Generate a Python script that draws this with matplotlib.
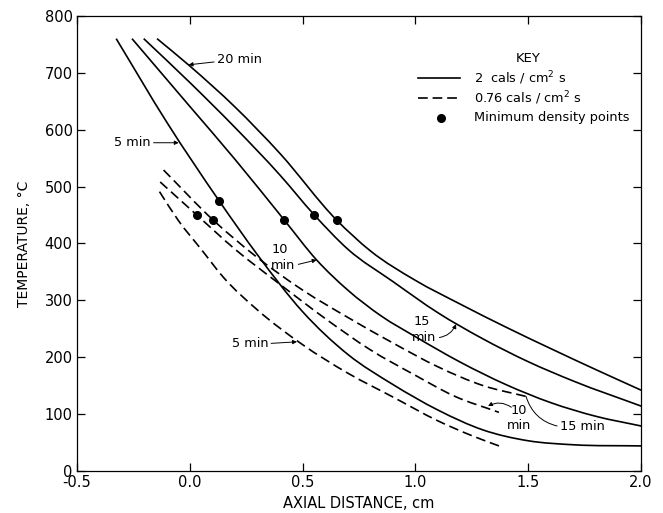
import matplotlib
matplotlib.use("Agg")
import matplotlib.pyplot as plt
import numpy as np
from matplotlib.path import Path
from matplotlib.patches import PathPatch

plt.rcParams['font.family'] = ['DejaVu Sans']
plt.rcParams['lines.scale_dashes'] = False

# ---- data ----
# 2 cals/cm2 s (solid)
s5_x = [-0.326, -0.1, 0.13, 0.3, 0.5, 0.7, 0.9, 1.1, 1.3, 1.5, 1.7, 2.0]
s5_t = [760, 612, 475, 380, 280, 205, 152, 107, 72, 53, 46, 44]
s10_x = [-0.256, 0.0, 0.2, 0.419, 0.562, 0.7, 0.85, 1.0, 1.2, 1.4, 1.6, 1.8, 2.0]
s10_t = [760, 641, 548, 441, 371, 318, 272, 236, 191, 152, 120, 96, 79]
s15_x = [-0.204, 0.0, 0.2, 0.4, 0.552, 0.7, 0.9, 1.1, 1.3, 1.5, 1.7, 2.0]
s15_t = [760, 683, 604, 520, 450, 390, 333, 278, 232, 192, 158, 114]
s20_x = [-0.145, 0.0, 0.2, 0.4, 0.651, 0.8, 1.0, 1.2, 1.4, 1.6, 1.8, 2.0]
s20_t = [760, 712, 640, 558, 441, 387, 335, 293, 253, 215, 178, 142]

# 0.76 cals/cm2 s (dashed)
d5_x = [-0.134, -0.05, 0.05, 0.15, 0.3, 0.5, 0.7, 0.9, 1.1, 1.25, 1.37]
d5_t = [491, 440, 390, 340, 283, 222, 172, 130, 88, 62, 44]
d10_x = [-0.131, 0.031, 0.2, 0.4, 0.6, 0.8, 1.0, 1.17, 1.37]
d10_t = [508, 450, 390, 328, 268, 213, 168, 132, 103]
d15_x = [-0.116, 0.104, 0.3, 0.5, 0.7, 0.9, 1.1, 1.3, 1.49]
d15_t = [529, 441, 375, 318, 270, 225, 183, 150, 131]

# minimum density points
min_x = [0.031, 0.104, 0.13, 0.419, 0.552, 0.651]
min_t = [450, 441, 475, 441, 450, 441]

x_ticks = [-0.5, 0.0, 0.5, 1.0, 1.5, 2.0]
x_ticklabels = ['-0.5', '0.0', '0.5', '1.0', '1.5', '2.0']
y_ticks = [0, 100, 200, 300, 400, 500, 600, 700, 800]


def smooth_path(xs, ys):
    """Cubic Hermite (Bezier) path through the read points."""
    x = np.asarray(xs, float)
    y = np.asarray(ys, float)
    h = np.diff(x)
    d = np.diff(y) / h
    n = len(x)
    m = np.empty(n)
    m[0], m[-1] = d[0], d[-1]
    for i in range(1, n - 1):
        m[i] = (d[i - 1] * h[i] + d[i] * h[i - 1]) / (h[i - 1] + h[i])
    verts = [(x[0], y[0])]
    codes = [Path.MOVETO]
    for i in range(n - 1):
        verts += [(x[i] + h[i] / 3, y[i] + m[i] * h[i] / 3),
                  (x[i + 1] - h[i] / 3, y[i + 1] - m[i + 1] * h[i] / 3),
                  (x[i + 1], y[i + 1])]
        codes += [Path.CURVE4] * 3
    return Path(verts, codes)


fig = plt.figure(figsize=(6.63, 5.13), dpi=100)
ax = fig.add_axes([0.116, 0.082, 0.851, 0.887])

lw = 1.2
dash = (7, 3.5)
for xs, ts in [(s5_x, s5_t), (s10_x, s10_t), (s15_x, s15_t), (s20_x, s20_t)]:
    ax.add_patch(PathPatch(smooth_path(xs, ts), facecolor='none',
                           edgecolor='black', lw=lw, capstyle='butt'))
for xs, ts in [(d5_x, d5_t), (d10_x, d10_t), (d15_x, d15_t)]:
    ax.add_patch(PathPatch(smooth_path(xs, ts), facecolor='none',
                           edgecolor='black', lw=lw, linestyle=(0, dash),
                           capstyle='butt'))
ax.plot(min_x, min_t, 'o', color='black', ms=5.5)

ax.set_xlim(-0.5, 2.0)
ax.set_ylim(0, 800)
ax.set_xticks(x_ticks)
ax.set_xticklabels(x_ticklabels)
ax.set_yticks(y_ticks)
ax.tick_params(direction='in', length=6, width=0.9, top=True, right=True,
               labelsize=10.5, pad=3)
for sp in ax.spines.values():
    sp.set_linewidth(0.9)
ax.set_xlabel('AXIAL DISTANCE, cm', fontsize=10.5, labelpad=4)
ax.set_ylabel('TEMPERATURE, °C', fontsize=10, labelpad=10)

ap = dict(arrowstyle='-|>', color='black', lw=0.7, mutation_scale=6,
          shrinkA=0, shrinkB=0)
fs = 9.3
# solid labels
ax.annotate('20 min', xy=(-0.005, 714), xytext=(0.12, 724), fontsize=fs,
            va='center', ha='left', arrowprops=ap)
ax.annotate('5 min', xy=(-0.049, 577), xytext=(-0.335, 577), fontsize=fs,
            va='center', ha='left', arrowprops=dict(ap, relpos=(1, 0.5)))
ax.text(0.40, 390, '10', fontsize=fs, ha='center', va='center')
ax.annotate('min', xy=(0.562, 371), xytext=(0.415, 362), fontsize=fs,
            va='center', ha='center', arrowprops=dict(ap, relpos=(1, 0.5)))
ax.text(1.03, 262, '15', fontsize=fs, ha='center', va='center')
ax.annotate('min', xy=(1.18, 258), xytext=(1.04, 234), fontsize=fs,
            va='center', ha='center',
            arrowprops=dict(ap, relpos=(1, 0.5), connectionstyle='arc3,rad=0.3'))
# dashed labels
ax.annotate('5 min', xy=(0.475, 227), xytext=(0.186, 224), fontsize=fs,
            va='center', ha='left', arrowprops=dict(ap, relpos=(1, 0.5)))
ax.text(1.46, 106, '10', fontsize=fs, ha='center', va='center')
ax.text(1.46, 80, 'min', fontsize=fs, ha='center', va='center')
ax.annotate('', xy=(1.322, 114), xytext=(1.425, 112),
            arrowprops=dict(ap, connectionstyle='arc3,rad=0.3'))
ax.annotate('15 min', xy=(1.49, 131), xytext=(1.64, 78), fontsize=fs,
            va='center', ha='left',
            arrowprops=dict(arrowstyle='-', color='black', lw=0.7, relpos=(0, 0.5),
                            connectionstyle='arc3,rad=-0.3', shrinkA=0, shrinkB=0))

# key
ax.text(1.5, 725, 'KEY', fontsize=9.5, ha='center', va='center')
ax.plot([1.01, 1.198], [690, 690], color='black', lw=lw)
ax.text(1.258, 690, '2  cals / cm$^2$ s', fontsize=fs, va='center', ha='left')
ax.plot([1.01, 1.198], [656, 656], color='black', lw=lw, dashes=dash)
ax.text(1.258, 656, '0.76 cals / cm$^2$ s', fontsize=fs, va='center', ha='left')
ax.plot([1.113], [621], 'o', color='black', ms=5.5)
ax.text(1.258, 621, 'Minimum density points', fontsize=fs, va='center', ha='left')

fig.savefig('out.png', dpi=100)
